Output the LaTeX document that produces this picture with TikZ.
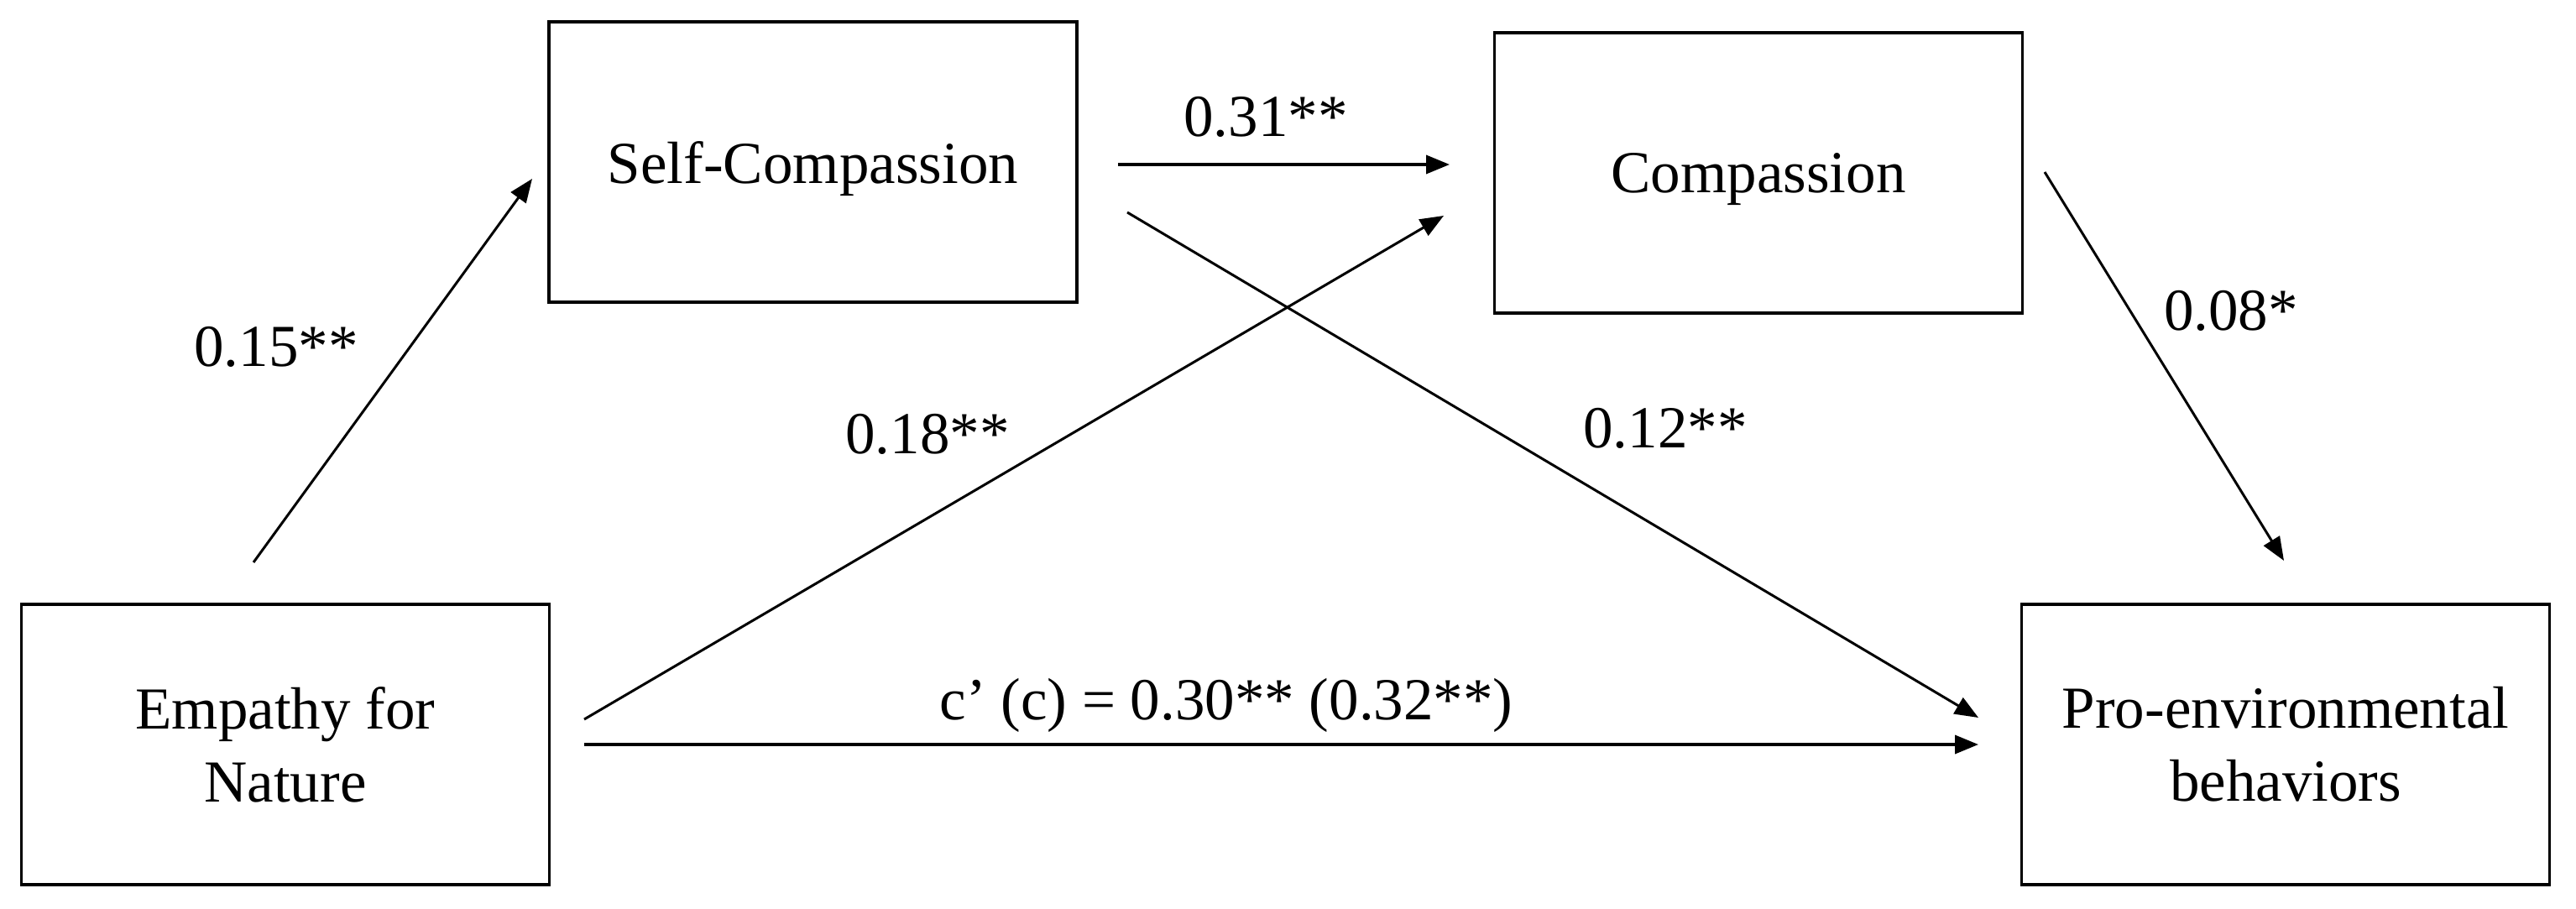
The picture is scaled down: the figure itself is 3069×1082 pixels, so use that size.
\documentclass[tikz,border=0pt]{standalone}
\usepackage{fontspec}
\setmainfont{Liberation Serif}
\usetikzlibrary{arrows.meta}
\begin{document}
\begin{tikzpicture}[x=0.25pt,y=-0.25pt,
  varbox/.style={draw=black, line width=0.95pt, rectangle, inner sep=0pt, outer sep=0pt,
    minimum width=157.25pt, minimum height=83.5pt, align=center,
    font=\fontsize{17.75pt}{21.75pt}\selectfont},
  onebox/.style={varbox, text depth=0pt},
  coef/.style={anchor=base, inner sep=0pt, font=\fontsize{17.75pt}{21.75pt}\selectfont},
  path/.style={draw=black, line width=0.75pt, -{Triangle[length=7pt, width=5.5pt]}},
  hpath/.style={path, line width=0.9pt}
]
\useasboundingbox (0,0) rectangle (3069,1082);
% boxes
\node[onebox] (sc)   at (968.5,193) {Self-Compassion};
\node[onebox] (comp) at (2095,206)  {Compassion};
\node[varbox] (emp)  at (340,887)   {Empathy for\\Nature};
\node[varbox] (pro)  at (2723,887)  {Pro-environmental\\behaviors};
% arrow end points
\coordinate (a1s) at (302,670);   \coordinate (a1e) at (634,213);
\coordinate (a2s) at (1332,196);  \coordinate (a2e) at (1727,196);
\coordinate (a3s) at (696,857);   \coordinate (a3e) at (1720,257);
\coordinate (a4s) at (1343,253);  \coordinate (a4e) at (2357,855);
\coordinate (a5s) at (2436,205);  \coordinate (a5e) at (2721,668);
\coordinate (a6s) at (696,887);   \coordinate (a6e) at (2357,887);
% connectors
\draw[path] (a1s) -- (a1e);
\draw[hpath] (a2s) -- (a2e);
\draw[path] (a3s) -- (a3e);
\draw[path] (a4s) -- (a4e);
\draw[path] (a5s) -- (a5e);
\draw[hpath] (a6s) -- (a6e);
% coefficients
\node[coef] (l1) at (329,436)  {0.15**};
\node[coef] (l2) at (1508,162) {0.31**};
\node[coef] (l3) at (1105,540) {0.18**};
\node[coef] (l4) at (1984,533) {0.12**};
\node[coef] (l5) at (2658,393) {0.08*};
\node[coef] (l6) at (1461,857) {c’ (c) = 0.30** (0.32**)};
\end{tikzpicture}
\end{document}
